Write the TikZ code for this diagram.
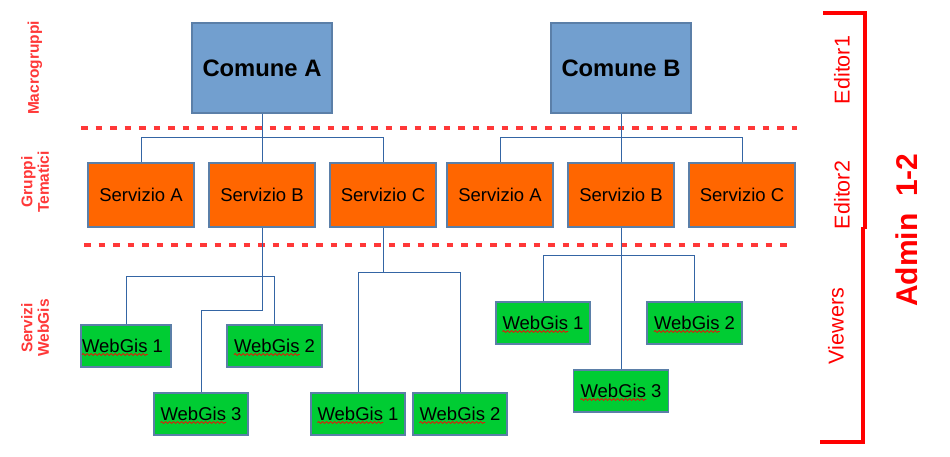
\documentclass[tikz,border=0pt]{standalone}
\usepackage{fontspec}
\setmainfont{Liberation Sans}
\usetikzlibrary{decorations.pathmorphing}
\definecolor{cblue}{HTML}{729FCF}
\definecolor{cborder}{HTML}{5B7FA8}
\definecolor{cline}{HTML}{3465A4}
\definecolor{corange}{HTML}{FF6600}
\definecolor{cgreen}{HTML}{00CC33}
\definecolor{cdash}{HTML}{FF3838}
\definecolor{cred}{HTML}{FF0000}
\begin{document}
\begin{tikzpicture}[x=1pt,y=-1pt,
  box/.style={draw=cborder,line width=1.3pt,inner sep=0pt,text=black},
  comune/.style={box,fill=cblue,minimum width=140pt,minimum height=90pt,
    font=\fontsize{23.8}{28}\selectfont\bfseries},
  serv/.style={box,fill=corange,minimum width=106pt,minimum height=64pt,
    font=\fontsize{18.5}{22}\selectfont},
  wg/.style={box,fill=cgreen,minimum width=94pt,minimum height=42pt,
    font=\fontsize{18.5}{22}\selectfont},
  conn/.style={draw=cline,line width=1pt},
  reddash/.style={draw=cdash,line width=4pt,dash pattern=on 6.5pt off 8pt},
  bracket/.style={draw=cred,line width=4pt},
  sidelab/.style={text=cdash,rotate=90,align=center,inner sep=0pt,
    font=\fontsize{15.5}{16.5}\selectfont\bfseries},
  rolelab/.style={text=cred,rotate=90,inner sep=0pt,
    font=\fontsize{21.5}{24}\selectfont},
  wave/.style={draw=red,line width=0.7pt,decorate,
    decoration={snake,segment length=4pt,amplitude=0.9pt}},
]
\useasboundingbox (0,0) rectangle (950,457);

% separators
\draw[reddash] (81,128) -- (797,128);
\draw[reddash] (84,245) -- (792,245);

% top level
\node[comune] (ca) at (262,68) {Comune A};
\node[comune] (cb) at (621,68) {Comune B};

% servizi
\node[serv] (sa1) at (141,195) {Servizio A};
\node[serv] (sb1) at (262,195) {Servizio B};
\node[serv] (sc1) at (383,195) {Servizio C};
\node[serv] (sa2) at (500,195) {Servizio A};
\node[serv] (sb2) at (621,195) {Servizio B};
\node[serv] (sc2) at (742,195) {Servizio C};

% webgis
\node[wg,minimum width=90pt] (w1) at (126,346) {WebGis 1\hspace*{7pt}};
\node[wg,minimum width=95pt] (w2) at (274.5,346) {WebGis 2};
\node[wg] (w3) at (201,414) {WebGis 3};
\node[wg] (w4) at (358,414) {WebGis 1};
\node[wg] (w5) at (460,414) {WebGis 2};
\node[wg] (w6) at (543,323) {WebGis 1};
\node[wg,minimum width=95pt] (w7) at (694.5,323) {WebGis 2};
\node[wg,minimum width=95pt] (w8) at (621,391) {WebGis 3};

% spell-check squiggles
\draw[wave] ([shift={(-44.1,8.5)}]w1.center) -- ++(65.8,0);
\foreach \w in {w2,w3,w4,w5,w6,w7,w8}
  \draw[wave] ([shift={(-40.6,8.5)}]\w.center) -- ++(65.8,0);

% connectors top -> servizi
\draw[conn] (ca.south) -- (ca.south |- 0,138) -| (sa1.north);
\draw[conn] (ca.south) -- (sb1.north);
\draw[conn] (ca.south |- 0,138) -| (sc1.north);
\draw[conn] (cb.south) -- (cb.south |- 0,138) -| (sa2.north);
\draw[conn] (cb.south) -- (sb2.north);
\draw[conn] (cb.south |- 0,138) -| (sc2.north);

% servizio B (A) -> webgis
\draw[conn] (sb1.south) -- (sb1.south |- 0,276);
\draw[conn] (w1.north) |- (w2.north |- 0,276) -- (w2.north);
\draw[conn] (sb1.south) |- (w3.north |- 0,310) -- (w3.north);

% servizio C (A) -> webgis
\draw[conn] (sc1.south) -- (sc1.south |- 0,272);
\draw[conn] (w4.north) |- (w5.north |- 0,272) -- (w5.north);

% servizio B (B) -> webgis
\draw[conn] (sb2.south) -- (w8.north);
\draw[conn] (w6.north) |- (w7.north |- 0,255) -- (w7.north);

% side labels
\node[sidelab] (lmacro) at (35,68) {Macrogruppi};
\node[sidelab] (lgruppi) at (35,182) {Gruppi\\Tematici};
\node[sidelab] (lserv) at (35,328) {Servizi\\WebGis};

% roles
\node[rolelab] (ed1) at (842,70) {Editor1};
\node[rolelab] (ed2) at (842,195) {Editor2};
\node[rolelab] (view) at (836,326) {Viewers};

% brackets
\draw[bracket] (823,13) -- (865,13) -- (865,229);
\draw[bracket] (863,227) -- (863,442) -- (820,442);
\node[text=cred,rotate=90,inner sep=0pt,font=\fontsize{30}{34}\selectfont\bfseries]
  (admin) at (907,230) {Admin\ \ 1-2};
\end{tikzpicture}
\end{document}
